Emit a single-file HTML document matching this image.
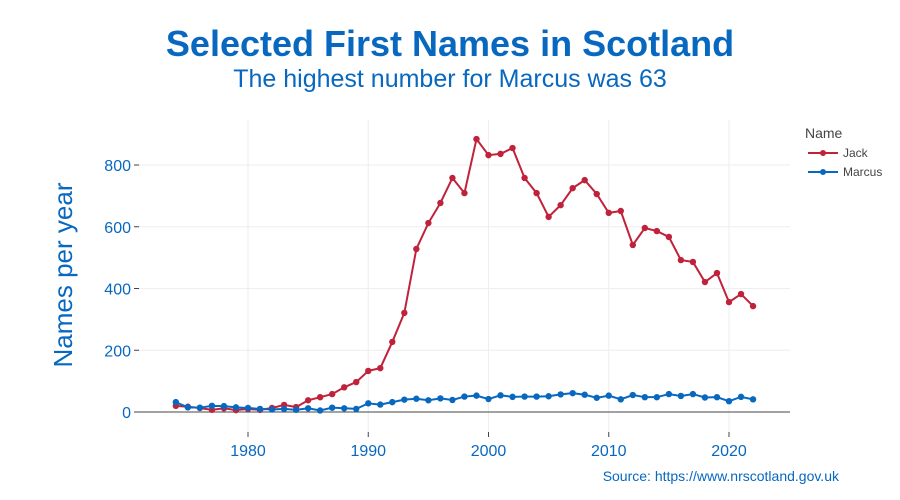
<!DOCTYPE html>
<html><head><meta charset="utf-8"><style>
body{margin:0;background:#fff;font-family:"Liberation Sans",sans-serif}
svg{display:block}
</style></head><body>
<svg width="900" height="500" xmlns="http://www.w3.org/2000/svg">
<text x="450" y="56" text-anchor="middle" font-size="36" font-weight="bold" fill="#0868c0">Selected First Names in Scotland</text>
<text x="450" y="87" text-anchor="middle" font-size="25" fill="#0868c0">The highest number for Marcus was 63</text>
<text transform="translate(72,275) rotate(-90)" text-anchor="middle" font-size="26" fill="#0868c0">Names per year</text>
<g id="grid"></g><g id="axes"></g><g id="series"></g>
<g>
<text x="805" y="138" font-size="14" fill="#444">Name</text>
<g><line x1="808" y1="153" x2="838" y2="153" stroke="#c0223b" stroke-width="2"/><circle cx="823" cy="153" r="3" fill="#c0223b"/><text x="843" y="157" font-size="12" fill="#444">Jack</text></g>
<g><line x1="808" y1="172" x2="838" y2="172" stroke="#0868c0" stroke-width="2"/><circle cx="823" cy="172" r="3" fill="#0868c0"/><text x="843" y="176" font-size="12" fill="#444">Marcus</text></g>
</g>
<text x="839" y="481" text-anchor="end" font-size="14" fill="#0868c0">Source: https://www.nrscotland.gov.uk</text>
</svg>
<script>
const years=[];for(let y=1974;y<=2022;y++)years.push(y);
const jack=[20,17,13,7,12,6,10,7,13,23,16,38,48,58,80,97,133,142,227,321,528,612,677,758,709,884,832,836,855,758,709,632,670,725,751,706,645,651,541,596,586,567,492,486,421,450,356,382,343];
const marcus=[32,15,14,20,19,15,13,10,8,10,7,12,5,14,12,10,28,24,32,40,43,38,44,39,50,53,42,54,49,50,50,51,57,61,56,46,53,41,55,48,48,58,52,58,47,48,35,49,41];
const xTicks=[1980,1990,2000,2010,2020];
const yTicks=[0,200,400,600,800];
const NS="http://www.w3.org/2000/svg";
const X=v=>248+(v-1980)*12.025, Y=v=>412-v*0.30875;
function mk(tag,attrs,parent){const e=document.createElementNS(NS,tag);for(const k in attrs)e.setAttribute(k,attrs[k]);parent.appendChild(e);return e;}
const grid=document.getElementById('grid'),axes=document.getElementById('axes'),ser=document.getElementById('series');
xTicks.forEach(t=>{
 const l=mk('line',{x1:X(t),x2:X(t),y1:120,y2:432,stroke:'#eee'},grid);
 
 
 mk('line',{x1:X(t),x2:X(t),y1:432,y2:437,stroke:'#444'},axes);
 const tx=mk('text',{x:X(t),y:456,'text-anchor':'middle','font-size':16,fill:'#0868c0'},axes);tx.textContent=t;
 
 
});
yTicks.forEach(t=>{
 if(t>0){const l=mk('line',{x1:138,x2:790,y1:Y(t),y2:Y(t),stroke:'#eee'},grid);
 
 }
 mk('line',{x1:134,x2:139,y1:Y(t),y2:Y(t),stroke:'#444'},axes);
 const tx=mk('text',{x:131,y:Y(t)+6,'text-anchor':'end','font-size':16,fill:'#0868c0'},axes);tx.textContent=t;
 
 
});
const zl=mk('line',{x1:138,x2:790,y1:Y(0),y2:Y(0),stroke:'#444','stroke-width':1},axes);


function draw(vals,col,name){
 const g=mk('g',{},ser);
 
 
 const p=mk('polyline',{points:vals.map((v,i)=>X(years[i])+','+Y(v)).join(' '),fill:'none',stroke:col,'stroke-width':2},g);
 
 
 vals.forEach((v,i)=>{const c=mk('circle',{cx:X(years[i]),cy:Y(v),r:3.2,fill:col},g);
  
  });
}
draw(jack,'#c0223b','jack');
draw(marcus,'#0868c0','marcus');
</script>
</body></html>
